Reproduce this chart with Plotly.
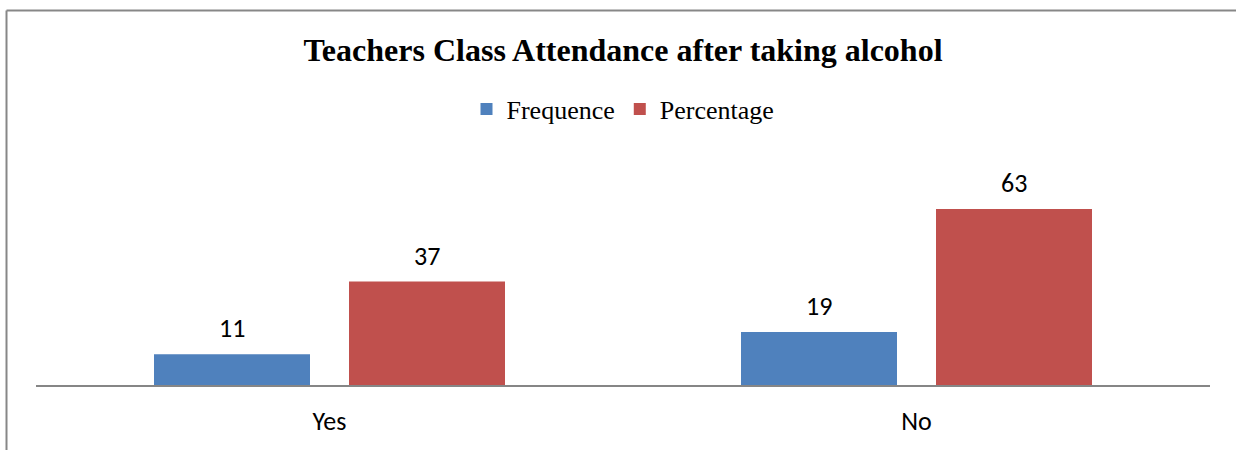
import plotly.graph_objects as go

categories = ["Yes", "No"]
frequence = [11, 19]
percentage = [37, 63]
series_names = ["Frequence", "Percentage"]
title_text = "Teachers Class Attendance after taking alcohol"

BLUE = "#4F81BD"
RED = "#C0504D"
LABEL_FONT = "Carlito, Lato, sans-serif"
SERIF = "Liberation Serif, Times New Roman, serif"

W, H = 1236, 450
ML, MR, MT, MB = 36, 26, 190, 65
PW = W - ML - MR
PH = H - MT - MB

fig = go.Figure()
fig.add_trace(go.Bar(x=categories, y=frequence, name=series_names[0],
                     marker=dict(color=BLUE, line=dict(width=0))))
fig.add_trace(go.Bar(x=categories, y=percentage, name=series_names[1],
                     marker=dict(color=RED, line=dict(width=0))))

annotations = []
for vals, shift in ((frequence, -97.5), (percentage, 97.5)):
    for c, v in zip(categories, vals):
        annotations.append(dict(x=c, y=v, xref="x", yref="y", text=str(v),
                                showarrow=False, xshift=shift, yshift=26,
                                yanchor="middle",
                                font=dict(family=LABEL_FONT, size=26, color="#000000")))

def px_x(p):
    return (p - ML) / PW

def px_y(p):
    return (H - MB - p) / PH

shapes = [
    dict(type="line", xref="paper", yref="paper",
         x0=px_x(6.5), x1=px_x(1240), y0=px_y(10.5), y1=px_y(10.5),
         line=dict(color="#878787", width=2)),
    dict(type="line", xref="paper", yref="paper",
         x0=px_x(6.5), x1=px_x(6.5), y0=px_y(10.5), y1=px_y(455),
         line=dict(color="#878787", width=2)),
]

fig.update_layout(
    width=W, height=H,
    margin=dict(l=ML, r=MR, t=MT, b=MB, pad=0, autoexpand=False),
    paper_bgcolor="white", plot_bgcolor="white",
    barmode="group", bargap=0.3356, bargroupgap=0.2,
    title=dict(text="<b>" + title_text + "</b>", x=0.5, xref="paper", xanchor="center",
               y=1 - 50 / H, yref="container", yanchor="middle",
               font=dict(family=SERIF, size=32, color="#000000")),
    legend=dict(orientation="h", x=0.5, xanchor="center", y=px_y(109), yanchor="middle",
                font=dict(family=SERIF, size=26, color="#000000"),
                itemsizing="constant", bgcolor="rgba(0,0,0,0)", traceorder="normal"),
    xaxis=dict(showgrid=False, zeroline=False, showline=True, linecolor="#868686",
               linewidth=2, ticks="", ticklabelstandoff=12, automargin=False,
               tickfont=dict(family=LABEL_FONT, size=26, color="#000000"), fixedrange=True),
    yaxis=dict(range=[0, PH / 2.794], showgrid=False, zeroline=False, showline=False,
               showticklabels=False, ticks="", fixedrange=True, automargin=False),
    annotations=annotations,
    shapes=shapes,
)

fig.write_html("out.html")
